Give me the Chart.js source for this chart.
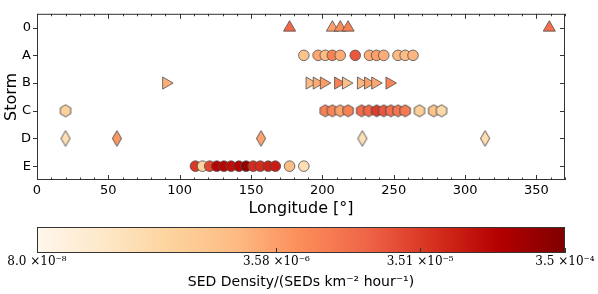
<!DOCTYPE html>
<html>
<head>
<meta charset="utf-8">
<script src="https://cdn.jsdelivr.net/npm/chart.js@4/dist/chart.umd.min.js"></script>
<style>
  html, body { margin: 0; padding: 0; background: #fff; }
  #wrap { position: relative; width: 598px; height: 294px; }
  #main { position: absolute; left: 0; top: 0; }
  #cbar { position: absolute; left: 0; top: 218px; }
</style>
</head>
<body>
<div id="wrap">
  <canvas id="main" width="598" height="218"></canvas>
  <canvas id="cbar" width="598" height="73"></canvas>
</div>
<script>
// --- DATA ---
const storms = ['0', 'A', 'B', 'C', 'D', 'E'];

const lon0 = [177, 207, 212.5, 218, 359];
const sed0 = [1.4e-5, 3.5e-6, 5.3e-6, 7e-6, 1.2e-5];

const lonA = [187, 197, 202, 207, 212.5, 223, 233, 238, 243, 253, 258, 263.5];
const sedA = [1.3e-6, 3e-6, 1.9e-6, 7e-6, 2.7e-6, 2e-5, 2.7e-6, 3.5e-6, 2.5e-6, 1.9e-6, 1.8e-6, 2.1e-6];

const lonB = [90.5, 191, 196, 201, 211, 216.5, 227, 232, 237, 247];
const sedB = [2.5e-6, 1.9e-6, 2.7e-6, 3.8e-6, 7e-6, 1.6e-6, 2.1e-6, 3.5e-6, 3e-6, 6.3e-6];

const lonC = [20, 202, 207, 212.5, 218, 227.5, 232.5, 238, 243, 248, 253, 258, 268, 278, 283.5];
const sedC = [7e-7, 7e-6, 6.3e-6, 3.2e-6, 7e-6, 1.3e-5, 1.4e-5, 3.3e-5, 2e-5, 1.2e-5, 9.5e-6, 8.7e-6, 8.4e-7, 1.3e-6, 5e-7];

const lonD = [20, 56, 157, 228, 314];
const sedD = [3.7e-7, 4.2e-6, 3.2e-6, 3.4e-7, 4e-7];

const lonE = [111, 116, 121, 126, 131, 136, 141.5, 146.5, 151.5, 156.5, 162, 167, 177, 187];
const sedE = [3.6e-5, 6.5e-7, 2.8e-5, 1.1e-4, 1.1e-4, 9e-5, 1.2e-4, 2.5e-4, 4.6e-5, 4.6e-5, 6e-5, 6.5e-5, 1.7e-6, 3.7e-7];

const lonTicks = [0, 50, 100, 150, 200, 250, 300, 350];
const cbMin = 8e-8;
const cbMax = 3.5e-4;
const cbTicks = [8e-8, 3.58e-6, 3.51e-5, 3.5e-4];
const cbTickLabels = ['8.0 ×10⁻⁸', '3.58 ×10⁻⁶', '3.51 ×10⁻⁵', '3.5 ×10⁻⁴'];

// --- COLORMAP (OrRd) ---
const orRd = ['#fff7ec', '#fee8c8', '#fdd49e', '#fdbb84', '#fc8d59', '#ef6548', '#d7301f', '#b30000', '#7f0000'];
const hexToRgb = h => [1, 3, 5].map(i => parseInt(h.substr(i, 2), 16));
const orRdRgb = orRd.map(hexToRgb);

const sedColor = (v) => {
    const lo = Math.log10(cbMin), hi = Math.log10(cbMax);
    let t = (Math.log10(v) - lo) / (hi - lo);
    t = Math.min(1, Math.max(0, t));
    const p = t * (orRdRgb.length - 1);
    const i = Math.min(orRdRgb.length - 2, Math.floor(p));
    const f = p - i;
    const c = orRdRgb[i].map((a, k) => Math.round(a + (orRdRgb[i + 1][k] - a) * f));
    return `rgb(${c[0]},${c[1]},${c[2]})`;
};

// --- CUSTOM MARKERS (hexagon, thin diamond) ---
const EDGE = '#4d4d4d';
const markerCache = {};
const makeMarker = (shape, fill) => {
    const key = shape + fill;
    if (markerCache[key]) return markerCache[key];
    const c = document.createElement('canvas');
    const w = shape === 'hex' ? 14 : 12;
    const h = shape === 'hex' ? 14 : 18;
    c.width = w; c.height = h;
    const g = c.getContext('2d');
    const cx = w / 2, cy = h / 2;
    g.beginPath();
    if (shape === 'hex') {
        const r = 6;
        for (let k = 0; k < 6; k++) {
            const a = Math.PI / 2 + k * Math.PI / 3;
            const px = cx + r * Math.cos(a), py = cy - r * Math.sin(a);
            if (k === 0) g.moveTo(px, py); else g.lineTo(px, py);
        }
    } else {
        g.moveTo(cx, cy - 7.8);
        g.lineTo(cx + 4.6, cy);
        g.lineTo(cx, cy + 7.8);
        g.lineTo(cx - 4.6, cy);
    }
    g.closePath();
    g.fillStyle = fill;
    g.fill();
    g.lineWidth = 0.9;
    g.strokeStyle = EDGE;
    g.stroke();
    markerCache[key] = c;
    return c;
};

const toPoints = (lons, storm) => lons.map(x => ({ x: x, y: storm }));

// --- PLUGINS ---
const mplFrame = {
    id: 'mplFrame',
    afterDatasetsDraw(chart) {
        const { ctx, chartArea: a, scales } = chart;
        ctx.save();
        ctx.strokeStyle = '#333';
        ctx.lineWidth = 1;
        ctx.strokeRect(a.left + 0.5, a.top + 0.5, a.right - a.left - 1, a.bottom - a.top - 1);
        ctx.beginPath();
        for (let v = 0; v <= 370; v += 10) {
            const px = Math.round(scales.x.getPixelForValue(v)) + 0.5;
            const len = v % 50 === 0 ? 5 : 2.5;
            ctx.moveTo(px, a.bottom); ctx.lineTo(px, a.bottom - len);
            ctx.moveTo(px, a.top); ctx.lineTo(px, a.top + len);
        }
        storms.forEach(s => {
            const py = Math.round(scales.y.getPixelForValue(s)) + 0.5;
            ctx.moveTo(a.left, py); ctx.lineTo(a.left - 4, py);
            ctx.moveTo(a.right, py); ctx.lineTo(a.right - 5, py);
        });
        ctx.stroke();
        ctx.restore();
    }
};

const cbarPaint = {
    id: 'cbarPaint',
    beforeDatasetsDraw(chart) {
        const { ctx, chartArea: a } = chart;
        const grad = ctx.createLinearGradient(a.left, 0, a.right, 0);
        orRd.forEach((c, i) => grad.addColorStop(i / (orRd.length - 1), c));
        ctx.save();
        ctx.fillStyle = grad;
        ctx.fillRect(a.left, a.top, a.right - a.left, a.bottom - a.top);
        ctx.restore();
    },
    afterDatasetsDraw(chart) {
        const { ctx, chartArea: a, scales } = chart;
        ctx.save();
        ctx.strokeStyle = '#333';
        ctx.lineWidth = 1;
        ctx.strokeRect(a.left + 0.5, a.top + 0.5, a.right - a.left - 1, a.bottom - a.top - 1);
        ctx.beginPath();
        cbTicks.forEach(v => {
            const px = Math.round(scales.x.getPixelForValue(v)) + 0.5;
            ctx.moveTo(px, a.bottom); ctx.lineTo(px, a.bottom - 5);
        });
        ctx.stroke();
        ctx.restore();
    }
};

// --- MAIN CHART ---
const tickFont = { family: 'DejaVu Sans', size: 13 };

new Chart(document.getElementById('main'), {
    type: 'scatter',
    data: {
        datasets: [
            {
                data: toPoints(lon0, '0'), pointStyle: 'triangle', pointRadius: 7,
                backgroundColor: sed0.map(sedColor)
            },
            {
                data: toPoints(lonA, 'A'), pointStyle: 'circle', pointRadius: 5.3,
                backgroundColor: sedA.map(sedColor)
            },
            {
                data: toPoints(lonB, 'B'), pointStyle: 'triangle', pointRadius: 7, rotation: 90,
                backgroundColor: sedB.map(sedColor)
            },
            {
                data: toPoints(lonC, 'C'),
                pointStyle: c => makeMarker('hex', sedColor(sedC[c.dataIndex])),
                backgroundColor: sedC.map(sedColor)
            },
            {
                data: toPoints(lonD, 'D'),
                pointStyle: c => makeMarker('dia', sedColor(sedD[c.dataIndex])),
                backgroundColor: sedD.map(sedColor)
            },
            {
                data: toPoints(lonE, 'E'), pointStyle: 'circle', pointRadius: 5.3,
                backgroundColor: sedE.map(sedColor)
            }
        ].map(d => Object.assign({ borderColor: EDGE, borderWidth: 0.8 }, d))
    },
    options: {
        responsive: false,
        animation: false,
        events: [],
        layout: { padding: { top: 8, right: 33, left: 0, bottom: 0 } },
        plugins: { legend: { display: false }, tooltip: { enabled: false } },
        scales: {
            x: {
                type: 'linear', min: 0, max: 370,
                afterBuildTicks: s => { s.ticks = lonTicks.map(v => ({ value: v })); },
                afterFit: s => { s.height = 38; },
                grid: { display: false, drawTicks: false },
                border: { display: false },
                ticks: { color: '#000', font: tickFont, padding: 3, maxRotation: 0 },
                title: { display: true, text: 'Longitude [°]', color: '#000', font: { family: 'DejaVu Sans', size: 16 }, padding: 0 }
            },
            y: {
                type: 'category', labels: storms, offset: true,
                afterFit: s => { s.width = 37; },
                grid: { display: false, drawTicks: false },
                border: { display: false },
                ticks: { color: '#000', font: tickFont, padding: 6 },
                title: { display: true, text: 'Storm', color: '#000', font: { family: 'DejaVu Sans', size: 16 }, padding: 2 }
            }
        }
    },
    plugins: [mplFrame]
});

// --- COLORBAR ---
new Chart(document.getElementById('cbar'), {
    type: 'scatter',
    data: { datasets: [{ data: [] }] },
    options: {
        responsive: false,
        animation: false,
        events: [],
        layout: { padding: { top: 9, right: 33, left: 37, bottom: 0 } },
        plugins: { legend: { display: false }, tooltip: { enabled: false } },
        scales: {
            x: {
                type: 'logarithmic', min: cbMin, max: cbMax,
                afterBuildTicks: s => { s.ticks = cbTicks.map(v => ({ value: v })); },
                afterFit: s => { s.height = 38; },
                grid: { display: false, drawTicks: false },
                border: { display: false },
                ticks: {
                    color: '#000', font: { family: 'DejaVu Serif', size: 12 }, padding: 2, maxRotation: 0,
                    autoSkip: false,
                    callback: (v, i) => cbTickLabels[i]
                },
                title: {
                    display: true, text: 'SED Density/(SEDs km⁻² hour⁻¹)', color: '#000',
                    font: { family: 'DejaVu Sans', size: 14 }, padding: 0
                }
            },
            y: { display: false, min: 0, max: 1 }
        }
    },
    plugins: [cbarPaint]
});
</script>
</body>
</html>
